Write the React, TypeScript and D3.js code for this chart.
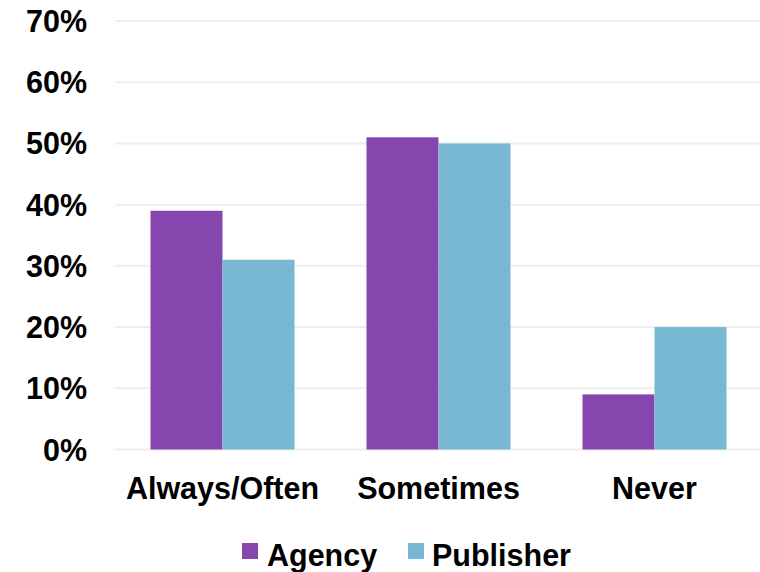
import React from "react";
import * as d3 from "d3";

const categories = ["Always/Often", "Sometimes", "Never"];
const seriesNames = ["Agency", "Publisher"];
const agencyValues = [39, 51, 9];
const publisherValues = [31, 50, 20];
const yTicks = [0, 10, 20, 30, 40, 50, 60, 70];
const colors = ["#8547AD", "#78B8D3"];

const W = 760;
const H = 572;
const FONT = "'Liberation Sans', Arial, Helvetica, sans-serif";
const FS = 30.5;

export default function App() {
  const x = d3
    .scaleBand<string>()
    .domain(categories)
    .range([114.5, 762.5])
    .paddingInner(1 / 3)
    .paddingOuter(1 / 6);
  const xs = d3.scaleBand<string>().domain(seriesNames).range([0, x.bandwidth()]);
  const y = d3.scaleLinear().domain([0, 70]).range([449.5, 21]);

  const series = [agencyValues, publisherValues];

  return (
    <svg
      width={W}
      height={H}
      style={{ position: "absolute", left: 0, top: 0, background: "#fff" }}
      fontFamily={FONT}
      fontWeight="bold"
    >
      {yTicks.map((t) => (
        <g key={t}>
          <line x1={115} x2={W} y1={y(t)} y2={y(t)} stroke="#EEEEEE" strokeWidth={2} />
          <text x={87} y={y(t) + 11} textAnchor="end" fontSize={FS} fill="#000">
            {t}%
          </text>
        </g>
      ))}
      {categories.map((c, ci) => (
        <g key={c}>
          {seriesNames.map((s, si) => {
            const v = series[si][ci];
            return (
              <rect
                key={s}
                x={(x(c) ?? 0) + (xs(s) ?? 0)}
                y={y(v)}
                width={xs.bandwidth()}
                height={y(0) - y(v)}
                fill={colors[si]}
              />
            );
          })}
          <text
            x={(x(c) ?? 0) + x.bandwidth() / 2}
            y={498.5}
            textAnchor="middle"
            fontSize={FS}
            fill="#000"
          >
            {c}
          </text>
        </g>
      ))}
      <g>
        <rect x={242} y={543} width={16} height={16} fill={colors[0]} />
        <text x={267} y={565.5} fontSize={FS} fill="#000">
          {seriesNames[0]}
        </text>
        <rect x={408} y={543} width={16} height={16} fill={colors[1]} />
        <text x={432} y={565.5} fontSize={FS} fill="#000">
          {seriesNames[1]}
        </text>
      </g>
    </svg>
  );
}
